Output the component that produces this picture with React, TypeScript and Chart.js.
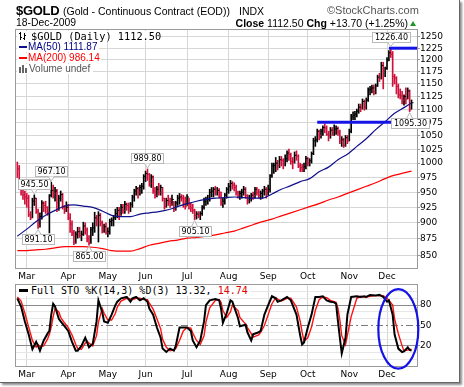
import React, { useEffect, useRef } from "react";
import { Chart, registerables } from "chart.js";
Chart.register(...registerables);

// ---------- categories / ticks ----------
const monthLabels = ["Mar", "Apr", "May", "Jun", "Jul", "Aug", "Sep", "Oct", "Nov", "Dec"];
const monthStartIdx = [5, 27, 48, 68, 90, 112, 133, 154, 176, 196]; // trading-day index of 1st session of month
const priceTicks = [850, 875, 900, 925, 950, 975, 1000, 1025, 1050, 1075, 1100, 1125, 1150, 1175, 1200, 1225, 1250];
const stoTicks = [0, 10, 20, 30, 40, 50, 60, 70, 80, 90, 100];
const stoLabelled = [20, 50, 80];

// ---------- daily $GOLD bars (23-Feb-2009 .. 18-Dec-2009) ----------
const prevCloseBeforeStart = 1002;
const highs = [
  1002, 996, 970, 966, 952, 948, 945, 918, 940, 945.5, 940, 922, 916, 936, 934, 935, 926, 946, 967.1, 962,
  958, 955, 945, 952, 948, 928, 934, 930, 915, 903, 888, 886, 893, 893, 887, 901, 900, 892, 880, 893,
  900, 917, 912, 918, 915, 903, 898, 900, 892, 906, 908, 912, 922, 925, 925, 930, 930, 935, 932, 932,
  933, 945, 955, 960, 958, 962, 965, 980, 986, 989.8, 982, 980, 978, 958, 960, 965, 962, 958, 940, 940,
  945, 940, 945, 935, 935, 945, 948, 946, 945, 942, 946, 940, 932, 930, 922, 918, 918, 918, 928, 940,
  942, 945, 955, 958, 958, 960, 958, 956, 950, 940, 948, 958, 965, 970, 968, 966, 962, 952, 952, 955,
  960, 958, 946, 945, 948, 950, 958, 958, 955, 952, 955, 960, 958, 962, 980, 1000, 1000, 1010, 1005, 1012,
  1012, 1008, 1015, 1022, 1025, 1018, 1010, 1020, 1022, 1015, 1000, 998, 1000, 1012, 1010, 1008, 1020, 1045, 1048, 1062,
  1060, 1062, 1068, 1072, 1068, 1058, 1065, 1065, 1070, 1068, 1066, 1060, 1048, 1045, 1050, 1050, 1062, 1090, 1095, 1096,
  1100, 1110, 1110, 1120, 1118, 1122, 1142, 1145, 1148, 1148, 1150, 1168, 1172, 1195, 1195, 1185, 1205, 1220, 1226.4, 1218,
  1170, 1165, 1150, 1140, 1135, 1128, 1142, 1142, 1138, 1118,
];
const lows = [
  975, 965, 945, 938, 930, 925, 910, 905, 908, 928, 915, 891.1, 893, 906, 918, 915, 912, 884, 942, 940,
  935, 918, 920, 935, 922, 915, 918, 905, 885, 880, 866, 868, 876, 877, 872, 880, 882, 870, 865, 868,
  880, 885, 895, 870, 895, 884, 885, 882, 878, 882, 895, 895, 905, 908, 905, 912, 915, 915, 920, 915,
  918, 925, 935, 945, 940, 945, 948, 955, 968, 970, 960, 958, 948, 940, 942, 945, 945, 935, 922, 925,
  928, 925, 928, 918, 920, 928, 930, 935, 925, 922, 928, 922, 918, 915, 905.1, 906, 908, 905, 912, 922,
  928, 930, 935, 942, 942, 945, 945, 940, 928, 925, 930, 940, 948, 952, 955, 952, 945, 940, 938, 940,
  945, 940, 930, 932, 935, 938, 940, 945, 940, 938, 940, 945, 940, 945, 950, 975, 982, 985, 988, 992,
  995, 990, 995, 1002, 1005, 998, 990, 1000, 1005, 992, 985, 985, 985, 990, 995, 995, 1000, 1015, 1030, 1038,
  1042, 1045, 1050, 1055, 1050, 1040, 1045, 1050, 1050, 1052, 1050, 1035, 1030, 1028, 1030, 1035, 1040, 1055, 1080, 1080,
  1085, 1092, 1095, 1100, 1098, 1100, 1115, 1128, 1132, 1128, 1130, 1145, 1155, 1160, 1140, 1165, 1180, 1198, 1205, 1145,
  1150, 1130, 1122, 1120, 1110, 1108, 1110, 1120, 1095.3, 1100,
];
const closes = [
  990, 968, 963, 945, 942, 940, 913, 908, 935, 940, 918, 896, 910, 932, 928, 925, 917, 945, 953, 948,
  952, 922, 940, 946, 925, 922, 925, 908, 898, 884, 870, 882, 886, 880, 882, 895, 889, 875, 868, 889,
  892, 908, 905, 912, 900, 890, 894, 884, 886, 902, 904, 908, 915, 920, 913, 925, 920, 930, 928, 925,
  930, 942, 952, 956, 950, 958, 960, 977, 982, 980, 965, 976, 952, 945, 955, 950, 958, 940, 926, 936,
  935, 930, 938, 922, 932, 940, 942, 940, 930, 926, 942, 930, 924, 920, 912, 914, 912, 915, 925, 935,
  938, 938, 950, 952, 955, 952, 953, 950, 932, 935, 945, 955, 960, 965, 962, 958, 950, 945, 948, 950,
  955, 944, 936, 940, 945, 944, 955, 950, 945, 948, 952, 955, 952, 955, 978, 995, 996, 1000, 996, 1006,
  1005, 1002, 1008, 1018, 1015, 1003, 1002, 1014, 1012, 995, 992, 990, 994, 1008, 1000, 1004, 1017, 1040, 1042, 1058,
  1050, 1058, 1065, 1064, 1052, 1050, 1060, 1058, 1062, 1063, 1056, 1040, 1042, 1032, 1046, 1040, 1058, 1085, 1088, 1090,
  1096, 1104, 1102, 1115, 1104, 1118, 1138, 1140, 1142, 1134, 1146, 1164, 1162, 1188, 1178, 1182, 1200, 1215, 1212, 1165,
  1162, 1145, 1128, 1126, 1118, 1125, 1120, 1136, 1098.8, 1112.5,
];

// ---------- moving averages ----------
const ma50Idx = [0, 5, 10, 15, 20, 25, 30, 35, 40, 45, 50, 55, 60, 65, 70, 75, 80, 85, 90, 95, 100, 105, 110, 115, 120, 125, 130, 135, 140, 145, 150, 155, 160, 165, 170, 175, 180, 185, 190, 195, 200, 205, 209];
const ma50 = [879, 890, 902, 912, 920, 927, 929, 927, 925, 919, 912, 910, 910, 914, 916, 918, 921, 926, 931, 935, 938, 940, 941, 942, 941, 940, 940, 947, 955, 961, 968, 973, 985, 993, 1006, 1016, 1030, 1044, 1061, 1076, 1092, 1103, 1111.87];
const ma200Idx = ma50Idx;
const ma200 = [857, 857, 858, 859, 861, 863, 863, 863, 862, 860, 857, 856, 856, 860, 865, 868, 871, 873, 876, 877, 879, 881, 884, 887, 892, 897, 902, 906, 911, 916, 921, 926, 931, 937, 942, 948, 954, 960, 966, 973, 979, 983, 986.14];

// ---------- horizontal levels & price annotations ----------
const levelValues = [1075, 1225];
const levelStartIdx = [159, 197];
const annIdx = [9, 18, 11, 38, 69, 94, 198, 208];
const annValue = [945.5, 967.1, 891.1, 865.0, 989.8, 905.1, 1226.4, 1095.3];
const annText = ["945.50", "967.10", "891.10", "865.00", "989.80", "905.10", "1226.40", "1095.30"];
const annAbove = [true, true, false, false, true, false, true, false];

// ---------- Full Stochastics ----------
const stoIdx = [0, 2, 4, 6, 8, 10, 11, 12, 14, 16, 17, 18, 19, 20, 22, 23, 25, 27, 29, 31, 32, 34, 36, 37, 38, 40, 42, 43, 45, 46, 48, 50, 52, 53, 55, 58, 60, 61, 63, 65, 67, 69, 70, 72, 74, 76, 77, 79, 81, 83, 84, 86, 88, 90, 92, 93, 95, 97, 99, 100, 102, 105, 107, 108, 109, 111, 113, 114, 117, 118, 121, 122, 124, 125, 128, 129, 131, 133, 135, 137, 138, 140, 143, 145, 146, 148, 150, 151, 152, 154, 156, 158, 160, 162, 164, 166, 168, 169, 170, 171, 172, 174, 175, 177, 180, 182, 184, 185, 187, 190, 192, 194, 196, 197, 199, 200, 202, 204, 205, 207, 208, 209];
const stoK = [90, 78, 56, 37, 15, 26, 20, 13, 28, 38, 42, 66, 82, 78, 60, 56, 49, 42, 26, 13, 13, 20, 32, 25, 18, 23, 56, 87, 70, 56, 54, 66, 80, 85, 90, 92, 85, 90, 92, 87, 90, 85, 75, 66, 47, 32, 16, 11, 16, 13, 20, 47, 47, 47, 42, 28, 18, 28, 56, 80, 87, 89, 87, 75, 54, 68, 87, 85, 61, 49, 51, 40, 28, 37, 40, 42, 66, 80, 93, 90, 85, 87, 92, 87, 80, 66, 35, 22, 25, 47, 66, 92, 92, 93, 87, 85, 84, 82, 56, 32, 9, 32, 66, 92, 93, 92, 93, 92, 95, 94, 95, 92, 85, 87, 66, 37, 16, 11, 12, 18, 14, 13.32];
const stoD = [92, 86, 68, 48, 28, 18, 22, 19, 20, 30, 37, 48, 63, 75, 70, 62, 54, 47, 36, 22, 16, 15, 24, 27, 24, 20, 35, 55, 75, 68, 58, 58, 68, 77, 86, 90, 89, 88, 90, 90, 88, 88, 83, 74, 60, 45, 30, 18, 13, 14, 16, 28, 42, 47, 46, 39, 28, 22, 35, 55, 76, 87, 88, 84, 72, 62, 70, 80, 72, 62, 52, 47, 38, 33, 36, 40, 50, 66, 82, 91, 89, 86, 90, 90, 86, 77, 56, 40, 27, 32, 48, 72, 88, 92, 91, 87, 85, 84, 75, 58, 35, 22, 36, 63, 90, 93, 92, 92, 93, 94, 94, 94, 90, 87, 80, 60, 38, 20, 13, 14, 15, 14.74];
const stoMidLevel = 50;
// highlight ellipse (centre & radii in data units)
const hlIdx = 202;
const hlValue = 45;
const hlRadIdx = 10.6;
const hlRadValue = 58.6;

// ---------- styling ----------
const X_MIN = -0.7;
const X_MAX = 211.9;
const GRID = "#d6d6d6";
const RED_BAR = "#d0103a";
const NAVY = "#10108a";
const BLUE = "#1414e6";
const FRAME = "#9a9a9a";

const framePlugin = {
  id: "frame",
  beforeDatasetsDraw(chart: any) {
    const { left, top, right, bottom } = chart.chartArea;
    const c = chart.ctx;
    c.save();
    c.strokeStyle = FRAME;
    c.lineWidth = 1;
    c.strokeRect(Math.round(left) - 0.5, Math.round(top) - 0.5, Math.round(right - left) + 1, Math.round(bottom - top) + 1);
    c.restore();
  },
};

const annotationPlugin = {
  id: "ann",
  afterDatasetsDraw(chart: any) {
    const xs = chart.scales.x;
    const ys = chart.scales.y;
    const c = chart.ctx;
    c.save();
    c.font = '8px "DejaVu Sans"';
    c.textAlign = "center";
    c.textBaseline = "middle";
    c.lineWidth = 1;
    annIdx.forEach((idx, k) => {
      const px = xs.getPixelForValue(idx);
      const py = ys.getPixelForValue(annValue[k]);
      const w = Math.ceil(c.measureText(annText[k]).width) + 4;
      const h = 10;
      const gap = 6;
      const above = annAbove[k];
      const by = Math.round(above ? py - gap - h : py + gap);
      const bx = Math.round(px - w / 2);
      c.fillStyle = "#fff";
      c.strokeStyle = "#b8b8b8";
      c.fillRect(bx + 0.5, by + 0.5, w, h);
      c.strokeRect(bx + 0.5, by + 0.5, w, h);
      const edge = above ? by + h + 0.5 : by + 0.5;
      const tip = above ? py - 1 : py + 1;
      c.beginPath();
      c.moveTo(px - 3, edge);
      c.lineTo(px, tip);
      c.lineTo(px + 3, edge);
      c.closePath();
      c.fill();
      c.beginPath();
      c.moveTo(px - 3, edge);
      c.lineTo(px, tip);
      c.lineTo(px + 3, edge);
      c.stroke();
      c.fillStyle = "#000";
      c.fillText(annText[k], bx + w / 2 + 0.5, by + h / 2 + 1);
    });
    c.restore();
  },
};

const ellipsePlugin = {
  id: "ellipse",
  afterDatasetsDraw(chart: any) {
    const xs = chart.scales.x;
    const ys = chart.scales.y;
    const c = chart.ctx;
    const cx = xs.getPixelForValue(hlIdx);
    const cy = ys.getPixelForValue(hlValue);
    const rx = Math.abs(xs.getPixelForValue(hlIdx + hlRadIdx) - cx);
    const ry = Math.abs(ys.getPixelForValue(hlValue + hlRadValue) - cy);
    c.save();
    c.strokeStyle = BLUE;
    c.lineWidth = 2.2;
    c.beginPath();
    c.ellipse(cx, cy, rx, ry, 0, 0, Math.PI * 2);
    c.stroke();
    c.restore();
  },
};

const xAxis = (height: number) => ({
  type: "linear",
  min: X_MIN,
  max: X_MAX,
  offset: false,
  afterBuildTicks: (s: any) => {
    s.ticks = monthStartIdx.map((v) => ({ value: v }));
  },
  afterFit: (s: any) => {
    s.height = height;
  },
  ticks: {
    autoSkip: false,
    maxRotation: 0,
    padding: 3,
    color: "#000",
    font: { family: "DejaVu Sans", size: 9 },
    callback: (_v: any, i: number) => monthLabels[i],
  },
  grid: { color: GRID, drawTicks: false, offset: false },
  border: { display: false },
});

function PriceChart() {
  const ref = useRef<HTMLCanvasElement>(null);
  useEffect(() => {
    const barColors = closes.map((c, i) => (c >= (i === 0 ? prevCloseBeforeStart : closes[i - 1]) ? "#000" : RED_BAR));
    const chart = new Chart(ref.current as HTMLCanvasElement, {
      type: "line",
      data: {
        datasets: [
          ...levelValues.map((v, k) => ({
            type: "line",
            data: [
              { x: levelStartIdx[k], y: v },
              { x: X_MAX, y: v },
            ],
            borderColor: BLUE,
            borderWidth: 3,
            pointRadius: 0,
            order: 0,
          })),
          {
            type: "line",
            data: ma50Idx.map((x, k) => ({ x, y: ma50[k] })),
            borderColor: NAVY,
            borderWidth: 1.2,
            pointRadius: 0,
            cubicInterpolationMode: "monotone",
            order: 1,
          },
          {
            type: "line",
            data: ma200Idx.map((x, k) => ({ x, y: ma200[k] })),
            borderColor: "#ff0000",
            borderWidth: 1.2,
            pointRadius: 0,
            cubicInterpolationMode: "monotone",
            order: 2,
          },
          {
            type: "scatter",
            data: closes.map((c, i) => ({ x: i + 0.5, y: c })),
            pointStyle: "line",
            pointRadius: 1,
            pointBorderWidth: 1,
            pointBorderColor: barColors,
            pointBackgroundColor: barColors,
            showLine: false,
            order: 3,
          },
          {
            type: "bar",
            data: highs.map((h, i) => ({ x: i, y: [lows[i], h] })),
            backgroundColor: barColors,
            borderWidth: 0,
            barThickness: 1,
            grouped: false,
            order: 4,
          },
        ] as any,
      },
      options: {
        responsive: false,
        animation: false,
        events: [],
        layout: { padding: { left: 16, top: 30, right: 0, bottom: 0 } },
        plugins: { legend: { display: false }, tooltip: { enabled: false } },
        scales: {
          x: xAxis(14) as any,
          y: {
            type: "logarithmic",
            position: "right",
            min: 831,
            max: 1265,
            afterBuildTicks: (s: any) => {
              s.ticks = priceTicks.map((v) => ({ value: v }));
            },
            afterFit: (s: any) => {
              s.width = 47;
            },
            ticks: {
              autoSkip: false,
              padding: 0,
              color: "#000",
              font: { family: "DejaVu Sans", size: 9 },
              callback: (v: any) => String(v),
            },
            grid: { color: GRID, tickLength: 3, tickColor: FRAME },
            border: { display: false },
          } as any,
        },
      },
      plugins: [framePlugin, annotationPlugin],
    });
    return () => chart.destroy();
  }, []);
  return <canvas ref={ref} width={464} height={282} style={{ position: "absolute", left: 0, top: 0, display: "block" }} />;
}

function StoChart() {
  const ref = useRef<HTMLCanvasElement>(null);
  useEffect(() => {
    const chart = new Chart(ref.current as HTMLCanvasElement, {
      type: "line",
      data: {
        datasets: [
          {
            data: stoIdx.map((x, k) => ({ x, y: stoK[k] })),
            borderColor: "#000",
            borderWidth: 2,
            pointRadius: 0,
            tension: 0,
            order: 0,
          },
          {
            data: stoIdx.map((x, k) => ({ x, y: stoD[k] })),
            borderColor: "#ff1010",
            borderWidth: 1.4,
            pointRadius: 0,
            tension: 0,
            order: 1,
          },
          {
            data: [
              { x: X_MIN, y: stoMidLevel },
              { x: X_MAX, y: stoMidLevel },
            ],
            borderColor: "#7a7a7a",
            borderWidth: 1,
            borderDash: [7, 3, 2, 3],
            pointRadius: 0,
            order: 2,
          },
        ] as any,
      },
      options: {
        responsive: false,
        animation: false,
        events: [],
        layout: { padding: { left: 16, top: 3, right: 0, bottom: 0 } },
        plugins: { legend: { display: false }, tooltip: { enabled: false } },
        scales: {
          x: xAxis(21) as any,
          y: {
            type: "linear",
            position: "right",
            min: -9.6,
            max: 109,
            afterBuildTicks: (s: any) => {
              s.ticks = stoTicks.map((v) => ({ value: v }));
            },
            afterFit: (s: any) => {
              s.width = 47;
            },
            ticks: {
              autoSkip: false,
              padding: 0,
              color: "#000",
              font: { family: "DejaVu Sans", size: 9 },
              callback: (v: any) => (stoLabelled.includes(v) ? String(v) : ""),
            },
            grid: {
              tickLength: 3,
              color: (ctx: any) => {
                const v = ctx.tick && ctx.tick.value;
                if (v === 20 || v === 80) return "#8a8a8a";
                if (v === 50) return "rgba(0,0,0,0)";
                return "#e6e6e6";
              },
              tickColor: (ctx: any) => {
                const v = ctx.tick && ctx.tick.value;
                return stoLabelled.includes(v) ? FRAME : "rgba(0,0,0,0)";
              },
            },
            border: { display: false },
          } as any,
        },
      },
      plugins: [framePlugin, ellipsePlugin],
    });
    return () => chart.destroy();
  }, []);
  return <canvas ref={ref} width={464} height={107} style={{ position: "absolute", left: 0, top: 280, display: "block" }} />;
}

type TProps = {
  x?: number;
  right?: number;
  y: number; // baseline
  size: number;
  family?: string;
  weight?: number;
  color?: string;
  bg?: string;
  ls?: number;
  children: React.ReactNode;
};

function T({ x, right, y, size, family = "Liberation Sans", weight = 400, color = "#000", bg, ls, children }: TProps) {
  return (
    <div
      style={{
        position: "absolute",
        left: right === undefined ? x : undefined,
        right,
        top: y - 0.846 * size,
        fontFamily: family,
        fontSize: size,
        lineHeight: `${size}px`,
        fontWeight: weight,
        color,
        background: bg,
        letterSpacing: ls,
        whiteSpace: "nowrap",
      }}
    >
      {children}
    </div>
  );
}

const box = (left: number, top: number, width: number, height: number, bg: string) => (
  <div style={{ position: "absolute", left, top, width, height, background: bg }} />
);

export default function App() {
  return (
    <div style={{ position: "absolute", left: 0, top: 0, width: 464, height: 387, background: "#fff", overflow: "hidden" }}>
      <PriceChart />
      <StoChart />
      {/* header */}
      <T x={16} y={15} size={13} weight={700} ls={-0.3}>$GOLD</T>
      <T x={63} y={15} size={10.5}>(Gold - Continuous Contract (EOD))</T>
      <T x={239} y={15} size={10.5}>INDX</T>
      <T x={327} y={14} size={11} color="#555">©StockCharts.com</T>
      <T x={16} y={26.7} size={10.4}>18-Dec-2009</T>
      <T right={56} y={26.7} size={10.5}>
        <b>Close</b> 1112.50 <b>Chg</b> +13.70 (+1.25%)
      </T>
      <div
        style={{
          position: "absolute",
          left: 410,
          top: 21,
          width: 0,
          height: 0,
          borderLeft: "3px solid transparent",
          borderRight: "3px solid transparent",
          borderBottom: "5px solid #1e9a1e",
        }}
      />
      {/* price legend */}
      {box(17, 31, 143, 10, "#fff")}
      {box(20, 32, 1, 8, "#000")}
      {box(19, 33, 1, 1, "#000")}
      {box(21, 37, 1, 1, "#000")}
      {box(24, 33, 1, 7, "#000")}
      {box(23, 38, 1, 1, "#000")}
      {box(25, 35, 1, 1, "#000")}
      <T x={31} y={39.5} size={10.3} family="DejaVu Sans Mono">$GOLD (Daily) 1112.50</T>
      {box(17, 42, 82, 10, "#fff")}
      {box(19, 46, 8, 2, "#10108a")}
      <T x={28} y={50.7} size={10} color="#000080">MA(50) 1111.87</T>
      {box(17, 53, 84, 10, "#fff")}
      {box(19, 56.5, 8, 2, "#ff0000")}
      <T x={28} y={61.7} size={10} color="#ff0000">MA(200) 986.14</T>
      {box(17, 64, 76, 10, "#fff")}
      {box(19, 67, 2, 6, "#666")}
      {box(22, 65, 2, 8, "#666")}
      {box(25, 68, 2, 5, "#666")}
      <T x={29} y={72.5} size={10} color="#555">Volume undef</T>
      {/* sto legend */}
      {box(17, 285, 233, 11, "#fff")}
      {box(19, 289, 9, 3, "#000")}
      <T x={31} y={294.3} size={10} family="DejaVu Sans Mono">
        Full STO %K(14,3) %D(3) 13.32, <span style={{ color: "#e00000" }}>14.74</span>
      </T>
      {/* outer frame */}
      <div
        style={{
          position: "absolute",
          left: 0,
          top: 0,
          width: 459,
          height: 382,
          borderRight: "1px solid #666",
          borderBottom: "1px solid #666",
          boxShadow: "2px 2px 2px rgba(0,0,0,0.45)",
          pointerEvents: "none",
        }}
      />
    </div>
  );
}
